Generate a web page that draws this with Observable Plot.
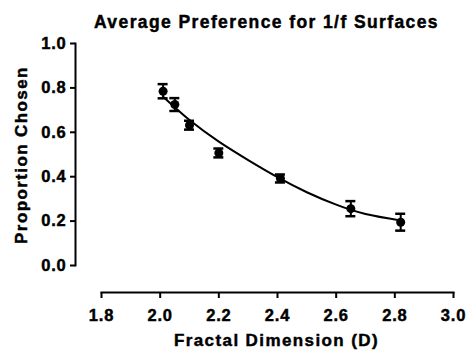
<!DOCTYPE html>
<html>
<head>
<meta charset="utf-8">
<script src="https://cdn.jsdelivr.net/npm/d3@7"></script>
<script src="https://cdn.jsdelivr.net/npm/@observablehq/plot@0.6"></script>
<style>
  html, body { margin: 0; padding: 0; background: #fff; }
  svg text { font-family: "Liberation Sans", Arial, sans-serif; font-weight: bold; fill: #000; stroke: #000; stroke-width: 0.45px; }
  g[aria-label="text"] text { letter-spacing: 1.4px; }
  g[aria-label$="tick label"] text { letter-spacing: 0.8px; }
</style>
</head>
<body>
<div id="chart"></div>
<script>
const titleText = "Average Preference for 1/f Surfaces";
const xLabel = "Fractal Dimension (D)";
const yLabel = "Proportion Chosen";

const dimension = [2.01, 2.05, 2.10, 2.20, 2.41, 2.65, 2.82];
const proportion = [0.785, 0.725, 0.632, 0.507, 0.392, 0.256, 0.195];
const errorSize = [0.032, 0.029, 0.020, 0.020, 0.018, 0.034, 0.038];

const fitDimension = [2.01, 2.10, 2.20, 2.30, 2.40, 2.50, 2.60, 2.70, 2.82];
const fitProportion = [0.760, 0.655, 0.558, 0.475, 0.398, 0.330, 0.274, 0.232, 0.203];

const xTicks = [1.8, 2.0, 2.2, 2.4, 2.6, 2.8, 3.0];
const yTicks = [0.0, 0.2, 0.4, 0.6, 0.8, 1.0];

const points = dimension.map((d, i) => ({
  D: d, p: proportion[i], lo: proportion[i] - errorSize[i], hi: proportion[i] + errorSize[i]
}));
const fit = fitDimension.map((d, i) => ({D: d, p: fitProportion[i]}));

const chart = Plot.plot({
  width: 472,
  height: 352,
  marginLeft: 75,
  marginRight: 19,
  marginTop: 43,
  marginBottom: 60,
  style: {background: "#fff", color: "#000", fontSize: "16px"},
  x: {domain: [1.8, 3.0], insetLeft: 26},
  y: {domain: [0, 1], insetBottom: 27},
  marks: [
    Plot.frame({anchor: "left", insetBottom: 27, strokeWidth: 2, stroke: "#000"}),
    Plot.frame({anchor: "bottom", insetLeft: 26, strokeWidth: 2, stroke: "#000"}),
    Plot.axisY({ticks: yTicks, tickFormat: d3.format(".1f"), tickSize: 5, tickPadding: 4, strokeWidth: 2, label: null, fontSize: 16.5, fontWeight: "bold"}),
    Plot.axisX({ticks: xTicks, tickFormat: d3.format(".1f"), tickSize: 6, tickPadding: 11, strokeWidth: 2, label: null, fontSize: 16.5, fontWeight: "bold"}),
    Plot.line(fit, {x: "D", y: "p", curve: "natural", stroke: "#000", strokeWidth: 2}),
    Plot.ruleX(points, {x: "D", y1: "lo", y2: "hi", stroke: "#000", strokeWidth: 2}),
    Plot.ruleY(points, {y: "hi", x1: "D", x2: "D", insetLeft: -5, insetRight: -5, stroke: "#000", strokeWidth: 2.5}),
    Plot.ruleY(points, {y: "lo", x1: "D", x2: "D", insetLeft: -5, insetRight: -5, stroke: "#000", strokeWidth: 2.5}),
    Plot.dot(points, {x: "D", y: "p", r: 4.5, fill: "#000", stroke: "none"}),
    Plot.text([titleText], {frameAnchor: "top", textAnchor: "middle", dx: 2, dy: -28, fontSize: 17.5, fill: "#000"}),
    Plot.text([xLabel], {frameAnchor: "bottom", textAnchor: "middle", dx: 12, dy: 53, fontSize: 17, fill: "#000"}),
    Plot.text([yLabel], {frameAnchor: "left", textAnchor: "middle", rotate: -90, dx: -53.5, dy: -13, fontSize: 17, fill: "#000"})
  ]
});
document.getElementById("chart").append(chart);
</script>
</body>
</html>
